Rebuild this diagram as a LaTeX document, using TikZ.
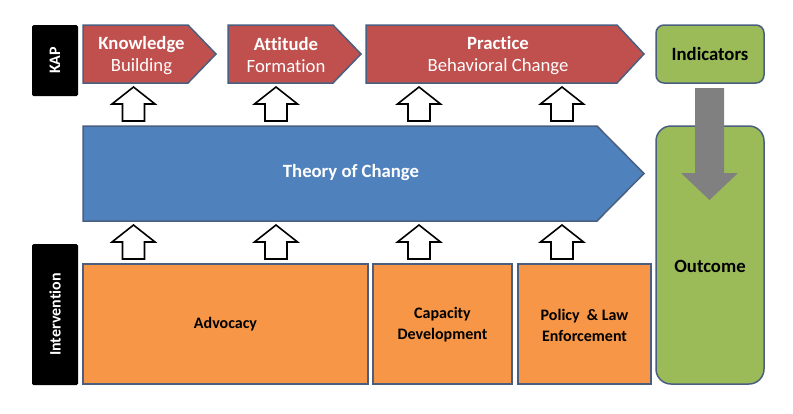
\documentclass[tikz,border=0pt]{standalone}
\usepackage{fontspec}
\setmainfont[Ligatures=NoCommon]{Carlito}
\definecolor{kred}{HTML}{C0504D}
\definecolor{kblue}{HTML}{4F81BD}
\definecolor{korange}{HTML}{F79646}
\definecolor{kgreen}{HTML}{9BBB59}
\definecolor{kedge}{HTML}{4A5F80}
\definecolor{kgray}{HTML}{808080}
\tikzset{
  shapeedge/.style={draw=kedge, line width=1.5pt, line join=miter},
  redshape/.style={shapeedge, fill=kred},
  blueshape/.style={shapeedge, fill=kblue},
  orangebox/.style={shapeedge, fill=korange},
  greenbox/.style={shapeedge, fill=kgreen, rounded corners=#1},
  labelbox/.style={fill=black, rounded corners=1.5pt},
  uparrow/.style={draw=black, fill=white, line width=1.6pt, line join=miter},
  wtext/.style={text=white, font=\fontsize{18.7}{22}\selectfont, align=center, inner sep=0pt},
  btext/.style={text=black, font=\bfseries\fontsize{16}{21}\selectfont, align=center, inner sep=0pt},
  gtext/.style={text=black, font=\bfseries\fontsize{18.7}{22}\selectfont, inner sep=0pt},
  vtext/.style={text=white, font=\bfseries\fontsize{16}{18}\selectfont, rotate=90, inner sep=0pt},
}
\newcommand{\uparr}[2]{% center x, top y
  \draw[uparrow] (#1,#2) -- (#1+21.5,#2+17) -- (#1+11,#2+17) -- (#1+11,#2+34)
    -- (#1-11,#2+34) -- (#1-11,#2+17) -- (#1-21.5,#2+17) -- cycle;}
\begin{document}
\begin{tikzpicture}[x=1pt,y=-1pt]
\useasboundingbox (0,0) rectangle (793,413);
\fill[white] (0,0) rectangle (793,413);

% side labels
\fill[labelbox] (32,25) rectangle (78,96);
\node[vtext] (kap) at (55,60.5) {KAP};
\fill[labelbox] (32,244) rectangle (78,385);
\node[vtext] (interv) at (55,314.5) {Intervention};

% KAP arrows
\draw[redshape] (83,25) -- (188,25) -- (216,54) -- (188,83) -- (83,83) -- cycle;
\node[wtext] (know) at (141.5,55.5) {\textbf{Knowledge}\\Building};
\draw[redshape] (228,25) -- (333,25) -- (361,54) -- (333,83) -- (228,83) -- cycle;
\node[wtext] (att) at (286,55.5) {\textbf{Attitude}\\Formation};
\draw[redshape] (366,25) -- (617,25) -- (644,54) -- (617,83) -- (366,83) -- cycle;
\node[wtext] (prac) at (498,55.5) {\textbf{Practice}\\Behavioral Change};

% Indicators
\draw[greenbox=8pt] (656,25) rectangle (764,83);
\node[gtext] (ind) at (710,54) {Indicators};

% Outcome
\draw[greenbox=15pt] (656,126) rectangle (764,384);
\node[gtext] (out) at (710,266) {Outcome};

% gray arrow
\fill[kgray] (695,88) -- (724,88) -- (724,173) -- (738,173) -- (709.5,200) -- (681,173) -- (695,173) -- cycle;

% Theory of change
\draw[blueshape] (83,126) -- (597,126) -- (644,173.5) -- (597,221) -- (83,221) -- cycle;
\node[wtext, font=\bfseries\fontsize{18.7}{22}\selectfont] (toc) at (351,173) {Theory of Change};

% upper hollow arrows
\uparr{133.5}{87}
\uparr{276}{87}
\uparr{419}{87}
\uparr{562}{87}
% lower hollow arrows
\uparr{133.5}{225}
\uparr{276}{225}
\uparr{419}{225}
\uparr{562}{225}

% intervention boxes
\draw[orangebox] (83,264) rectangle (368,384);
\node[btext] (adv) at (225.5,324) {Advocacy};
\draw[orangebox] (373,264) rectangle (512,384);
\node[btext] (cap) at (442.5,325) {Capacity\\Development};
\draw[orangebox] (518,264) rectangle (651,384);
\node[btext] (pol) at (584.5,325) {Policy~~\&~Law\\Enforcement};
\end{tikzpicture}
\end{document}
